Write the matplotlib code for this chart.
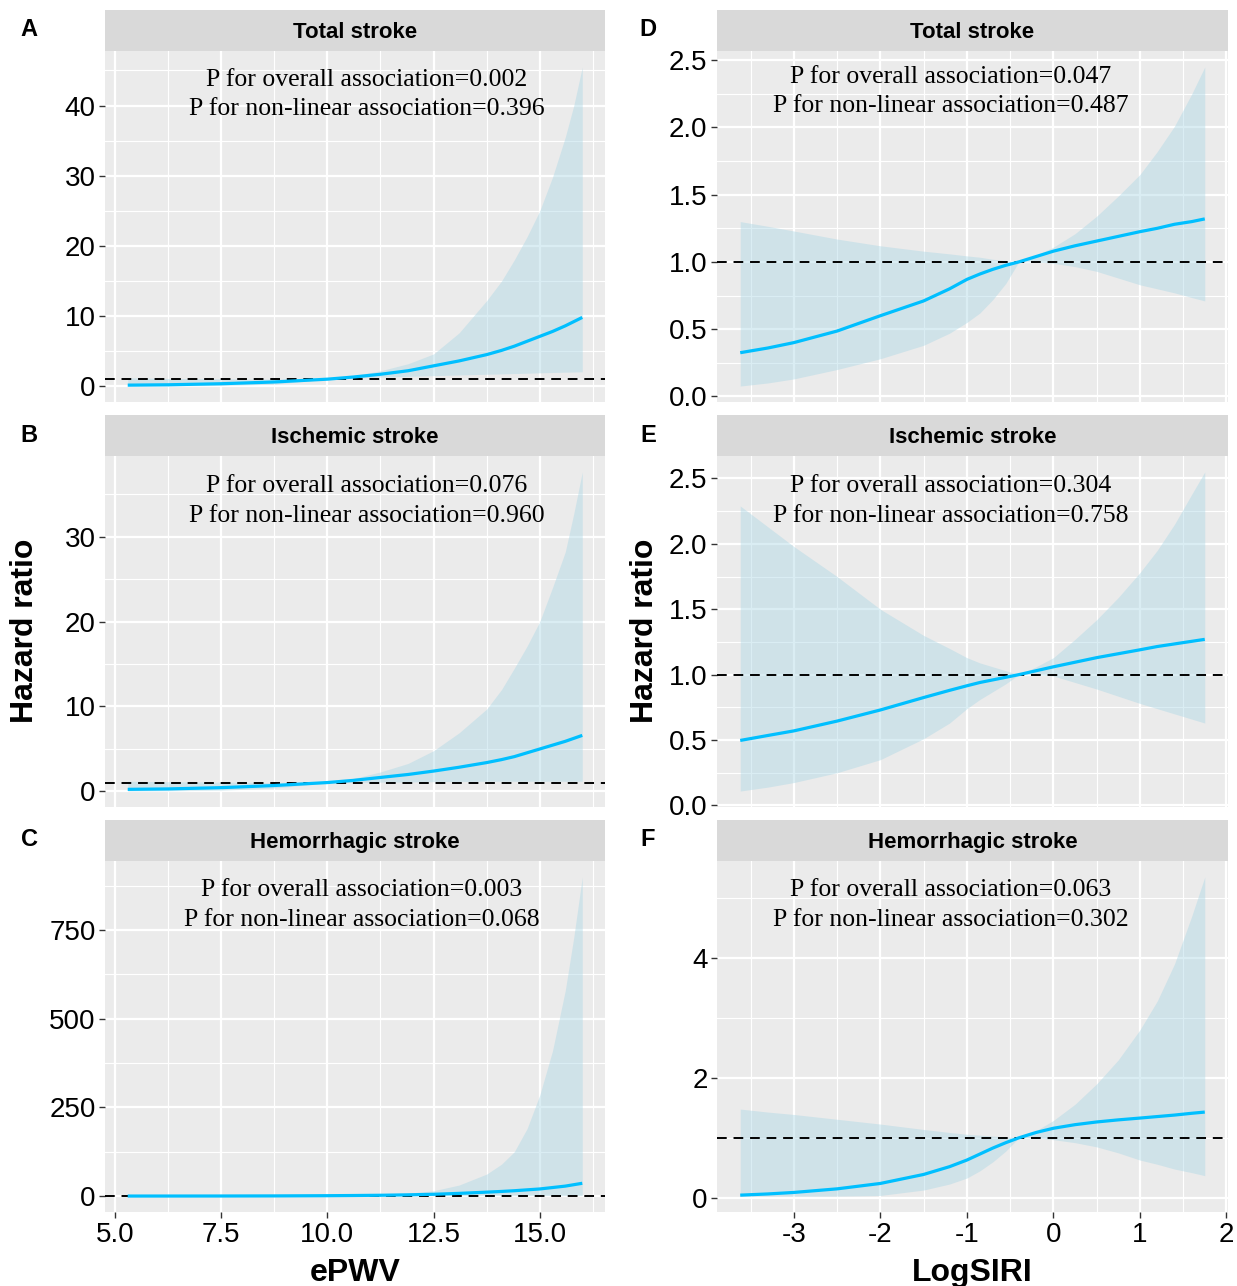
import matplotlib
matplotlib.use("Agg")
import matplotlib.pyplot as plt
import numpy as np

# ePWV panels (A-C)
epwv_x = [5.3, 6.25, 7.5, 8.75, 10.0, 10.6, 11.25, 11.9, 12.5, 13.1, 13.75,
          14.1, 14.4, 14.7, 15.0, 15.3, 15.6, 15.8, 16.0]

total_epwv_hr = [0.15, 0.2, 0.35, 0.6, 1.0, 1.3, 1.7, 2.2, 2.9, 3.6, 4.5,
                 5.1, 5.7, 6.4, 7.1, 7.8, 8.6, 9.2, 9.8]
total_epwv_hi = [1.2, 1.1, 1.05, 1.0, 1.05, 1.5, 2.2, 3.2, 4.6, 7.6, 12.2,
                 15.0, 18.0, 21.3, 25.0, 29.8, 35.5, 40.0, 45.5]
total_epwv_lo = [0.02, 0.04, 0.1, 0.3, 1.0, 1.15, 1.3, 1.4, 1.5, 1.6, 1.7,
                 1.75, 1.8, 1.85, 1.9, 1.95, 2.0, 2.02, 2.05]

isch_epwv_hr = [0.25, 0.3, 0.45, 0.7, 1.05, 1.3, 1.65, 2.0, 2.4, 2.85, 3.4,
                3.75, 4.1, 4.55, 5.0, 5.45, 5.9, 6.25, 6.6]
isch_epwv_hi = [1.2, 1.15, 1.1, 1.05, 1.1, 1.5, 2.3, 3.3, 4.8, 6.9, 9.7,
                12.0, 14.5, 17.1, 20.0, 24.0, 28.2, 32.7, 37.6]
isch_epwv_lo = [0.05, 0.08, 0.15, 0.4, 1.0, 1.05, 1.1, 1.12, 1.15, 1.18, 1.2,
                1.2, 1.2, 1.2, 1.2, 1.2, 1.2, 1.2, 1.2]

hem_epwv_hr = [0.02, 0.05, 0.15, 0.4, 1.0, 1.5, 2.2, 3.4, 5.0, 7.5, 11.0,
               13.0, 15.0, 17.5, 20.0, 24.0, 28.0, 32.0, 36.0]
hem_epwv_hi = [2.0, 1.5, 1.2, 1.1, 1.3, 2.2, 4.0, 8.0, 15.0, 31.0, 62.0,
               90.0, 125.0, 190.0, 285.0, 410.0, 580.0, 730.0, 900.0]
hem_epwv_lo = [0.0, 0.0, 0.01, 0.05, 1.0, 1.05, 1.1, 1.15, 1.2, 1.25, 1.3,
               1.3, 1.3, 1.3, 1.3, 1.3, 1.3, 1.3, 1.3]

# LogSIRI panels (D-F)
siri_x = [-3.62, -3.3, -3.0, -2.5, -2.0, -1.5, -1.2, -1.0, -0.85, -0.7, -0.55,
          -0.4, -0.2, 0.0, 0.25, 0.5, 0.75, 1.0, 1.2, 1.4, 1.6, 1.75]

total_siri_hr = [0.325, 0.36, 0.40, 0.486, 0.60, 0.71, 0.80, 0.87, 0.91, 0.945, 0.975,
                 1.0, 1.04, 1.08, 1.12, 1.155, 1.19, 1.225, 1.25, 1.28, 1.30, 1.32]
total_siri_hi = [1.30, 1.265, 1.23, 1.17, 1.12, 1.08, 1.06, 1.045, 1.035, 1.02, 1.01,
                 1.0, 1.05, 1.11, 1.21, 1.34, 1.49, 1.65, 1.82, 2.01, 2.25, 2.45]
total_siri_lo = [0.077, 0.10, 0.13, 0.20, 0.28, 0.38, 0.47, 0.55, 0.62, 0.72, 0.84,
                 1.0, 1.0, 0.99, 0.965, 0.93, 0.88, 0.83, 0.80, 0.77, 0.735, 0.71]

isch_siri_hr = [0.497, 0.535, 0.57, 0.645, 0.73, 0.825, 0.88, 0.915, 0.94, 0.96, 0.98,
                1.0, 1.03, 1.06, 1.095, 1.13, 1.16, 1.19, 1.215, 1.235, 1.255, 1.27]
isch_siri_hi = [2.29, 2.13, 1.98, 1.75, 1.50, 1.30, 1.20, 1.13, 1.09, 1.06, 1.03,
                1.0, 1.06, 1.13, 1.27, 1.42, 1.59, 1.78, 1.95, 2.15, 2.38, 2.55]
isch_siri_lo = [0.11, 0.14, 0.175, 0.25, 0.35, 0.51, 0.63, 0.74, 0.81, 0.87, 0.93,
                1.0, 1.0, 0.99, 0.94, 0.89, 0.835, 0.78, 0.74, 0.70, 0.66, 0.63]

hem_siri_hr = [0.045, 0.065, 0.09, 0.15, 0.24, 0.39, 0.52, 0.63, 0.73, 0.83, 0.92,
               1.0, 1.09, 1.16, 1.22, 1.265, 1.30, 1.33, 1.355, 1.38, 1.41, 1.43]
hem_siri_hi = [1.48, 1.43, 1.39, 1.31, 1.23, 1.14, 1.09, 1.06, 1.045, 1.03, 1.015,
               1.0, 1.12, 1.29, 1.56, 1.90, 2.30, 2.80, 3.28, 3.90, 4.70, 5.35]
hem_siri_lo = [0.03, 0.03, 0.03, 0.03, 0.04, 0.13, 0.23, 0.33, 0.45, 0.6, 0.78,
               1.0, 1.0, 0.97, 0.92, 0.85, 0.75, 0.63, 0.56, 0.48, 0.42, 0.37]

titles = ["Total stroke", "Ischemic stroke", "Hemorrhagic stroke"]
p_overall_epwv = ["0.002", "0.076", "0.003"]
p_nonlin_epwv = ["0.396", "0.960", "0.068"]
p_overall_siri = ["0.047", "0.304", "0.063"]
p_nonlin_siri = ["0.487", "0.758", "0.302"]

epwv_yticks = [[0, 10, 20, 30, 40], [0, 10, 20, 30], [0, 250, 500, 750]]
siri_yticks = [[0, 0.5, 1.0, 1.5, 2.0, 2.5], [0, 0.5, 1.0, 1.5, 2.0, 2.5], [0, 2, 4]]
epwv_xticks = [5.0, 7.5, 10.0, 12.5, 15.0]
siri_xticks = [-3, -2, -1, 0, 1, 2]

W, H = 1237, 1286
BG = "#EBEBEB"
STRIP = "#D9D9D9"
LINE = "#00BFFF"
RIBBON = "#ADD8E6"
SANS = "Liberation Sans"
SERIF = "Liberation Serif"


def px_rect(left, top, right, bottom):
    return [left / W, 1 - bottom / H, (right - left) / W, (bottom - top) / H]


def expand(lo, hi, f=0.05):
    d = (hi - lo) * f
    return lo - d, hi + d


def draw_panel(fig, box, x, hr, lo, hi, title, p1, p2, yticks, xticks, ylabfmt,
               show_x, txt_pos, label, label_x):
    left, top, right, bottom = box
    ax = fig.add_axes(px_rect(left, top, right, bottom))
    ax.set_facecolor(BG)
    for s in ax.spines.values():
        s.set_visible(False)

    xlim = expand(min(x), max(x))
    ylim = expand(min(lo), max(hi))
    ax.set_xlim(xlim)
    ax.set_ylim(ylim)

    # ggplot style grid: minor lines halfway between the majors
    xstep = xticks[1] - xticks[0]
    ystep = yticks[1] - yticks[0]
    xminor = np.arange(xticks[0] - 2 * xstep + xstep / 2, xticks[-1] + 2 * xstep, xstep)
    yminor = np.arange(yticks[0] - 2 * ystep + ystep / 2, yticks[-1] + 3 * ystep, ystep)
    xminor = [v for v in xminor if xlim[0] < v < xlim[1]]
    yminor = [v for v in yminor if ylim[0] < v < ylim[1]]
    xmajor = [v for v in xticks if xlim[0] <= v <= xlim[1]]
    for v in xminor:
        ax.axvline(v, color="white", lw=0.8, zorder=0)
    for v in yminor:
        ax.axhline(v, color="white", lw=0.8, zorder=0)
    for v in xmajor:
        ax.axvline(v, color="white", lw=1.6, zorder=0)
    for v in yticks:
        ax.axhline(v, color="white", lw=1.6, zorder=0)

    ax.fill_between(x, lo, hi, color=RIBBON, alpha=0.45, lw=0, zorder=1)
    ax.axhline(1, color="black", lw=1.4, ls=(0, (5, 3.5)), zorder=2)
    ax.plot(x, hr, color=LINE, lw=2.3, zorder=3, solid_capstyle="butt")

    ax.set_yticks(yticks)
    ax.set_yticklabels([ylabfmt(v) for v in yticks], fontsize=20, family=SANS)
    ax.tick_params(axis="y", length=4.3, width=1.0, color="#333333", pad=2.5)
    if show_x:
        ax.set_xticks(xmajor)
        if xstep == 1:
            labs = ["%d" % v for v in xmajor]
        else:
            labs = ["%.1f" % v for v in xmajor]
        ax.set_xticklabels(labs, fontsize=20, family=SANS)
        ax.tick_params(axis="x", length=4.3, width=1.0, color="#333333", pad=3)
    else:
        ax.set_xticks([])

    ax.text(txt_pos[0], txt_pos[1],
            "P for overall association=%s\nP for non-linear association=%s" % (p1, p2),
            transform=ax.transAxes, ha="center", va="center", fontsize=18.5,
            family=SERIF, linespacing=1.45, zorder=4)

    sax = fig.add_axes(px_rect(left, top - 41, right, top))
    sax.set_facecolor(STRIP)
    sax.set_xticks([])
    sax.set_yticks([])
    for s in sax.spines.values():
        s.set_visible(False)
    sax.text(0.5, 0.44, title, ha="center", va="center", fontsize=16,
             fontweight="bold", family=SANS, transform=sax.transAxes)

    fig.text(label_x / W, 1 - (top - 21) / H, label, ha="center", va="center",
             fontsize=17, fontweight="bold", family=SANS)
    return ax


fig = plt.figure(figsize=(W / 100, H / 100), dpi=100)
fig.patch.set_facecolor("white")

rows = [(51, 402), (456, 807), (861, 1212)]
epwv_data = [(total_epwv_hr, total_epwv_lo, total_epwv_hi),
             (isch_epwv_hr, isch_epwv_lo, isch_epwv_hi),
             (hem_epwv_hr, hem_epwv_lo, hem_epwv_hi)]
siri_data = [(total_siri_hr, total_siri_lo, total_siri_hi),
             (isch_siri_hr, isch_siri_lo, isch_siri_hi),
             (hem_siri_hr, hem_siri_lo, hem_siri_hi)]
left_txt = [(0.524, 0.876), (0.524, 0.872), (0.514, 0.874)]
right_txt = [(0.457, 0.885), (0.457, 0.872), (0.457, 0.874)]

for i, (top, bottom) in enumerate(rows):
    hr, lo, hi = epwv_data[i]
    draw_panel(fig, (105, top, 605, bottom), epwv_x, hr, lo, hi, titles[i],
               p_overall_epwv[i], p_nonlin_epwv[i], epwv_yticks[i], epwv_xticks,
               lambda v: "%d" % v, i == 2, left_txt[i], "ABC"[i], 29)
    hr, lo, hi = siri_data[i]
    draw_panel(fig, (717, top, 1228, bottom), siri_x, hr, lo, hi, titles[i],
               p_overall_siri[i], p_nonlin_siri[i], siri_yticks[i], siri_xticks,
               (lambda v: "%.1f" % v) if i < 2 else (lambda v: "%d" % v),
               i == 2, right_txt[i], "DEF"[i], 648)

fig.text(25 / W, 1 - 631 / H, "Hazard ratio", rotation=90, ha="center", va="center",
         fontsize=23, fontweight="bold", family=SANS)
fig.text(645 / W, 1 - 631 / H, "Hazard ratio", rotation=90, ha="center", va="center",
         fontsize=23, fontweight="bold", family=SANS)
fig.text(355 / W, 1 - 1281 / H, "ePWV", ha="center", va="baseline",
         fontsize=23, fontweight="bold", family=SANS)
fig.text(972 / W, 1 - 1281 / H, "LogSIRI", ha="center", va="baseline",
         fontsize=23, fontweight="bold", family=SANS)

fig.savefig("out.png", dpi=100)
